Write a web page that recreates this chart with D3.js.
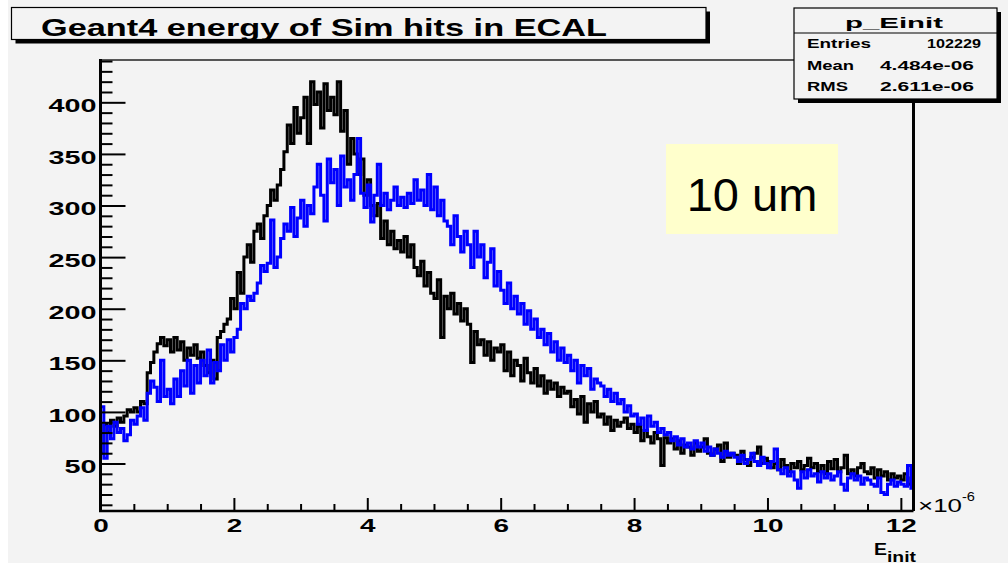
<!DOCTYPE html>
<html>
<head>
<meta charset="utf-8">
<script src="https://cdn.jsdelivr.net/npm/d3@7"></script>
<style>
  body { margin: 0; background: #fff; }
  svg { display: block; }
  text { font-family: "Liberation Sans", Arial, Helvetica, sans-serif; }
</style>
</head>
<body>
<svg id="chart" width="1008" height="565"></svg>
<script>
// histogram bins, width 0.05 (x 1e-6), from 0 to 12.2
const binWidth = 0.05;

const blackCounts = [
  60, 88, 80, 92, 86, 94, 90, 96, 102, 100,
  104, 100, 110, 108, 138, 148, 158, 166, 172, 164,
  170, 158, 172, 160, 168, 150, 162, 155, 165, 152,
  158, 145, 138, 150, 132, 172, 178, 185, 190, 210,
  200, 235, 215, 250, 262, 245, 275, 282, 268, 290,
  300, 315, 305, 320, 335, 352, 378, 360, 395, 370,
  385, 405, 360, 420, 398, 410, 375, 418, 392, 405,
  388, 420, 372, 392, 340, 365, 350, 330, 345, 310,
  325, 300, 290, 302, 268, 285, 262, 275, 258, 266,
  255, 270, 250, 262, 240, 232, 246, 222, 235, 215,
  210, 228, 172, 212, 200, 215, 195, 205, 188, 200,
  185, 148, 178, 165, 170, 155, 168, 150, 162, 158,
  165, 140, 158, 135, 150, 145, 130, 152, 138, 128,
  142, 125, 135, 118, 130, 122, 128, 115, 124, 118,
  120, 105, 112, 98, 115, 90, 108, 100, 110, 95,
  98, 88, 95, 82, 92, 86, 90, 94, 84, 88,
  80, 86, 72, 82, 76, 70, 80, 74, 48, 75,
  70, 74, 64, 72, 60, 68, 66, 58, 70, 62,
  66, 74, 60, 58, 64, 68, 52, 70, 56, 60,
  58, 50, 62, 54, 48, 56, 60, 66, 50, 55,
  52, 46, 50, 44, 54, 48, 42, 50, 46, 52,
  44, 48, 55, 46, 50, 42, 48, 40, 52, 45,
  54, 42, 46, 58, 40, 44, 38, 46, 50, 42,
  40, 46, 36, 44, 38, 42, 34, 40, 36, 38,
  34, 40, 30, 36
];

const blueCounts = [
  105, 55, 86, 74, 90, 80, 84, 72, 78, 92,
  88, 96, 104, 92, 118, 130, 124, 110, 150, 115,
  122, 108, 132, 115, 140, 125, 150, 118, 145, 128,
  150, 135, 160, 128, 148, 140, 165, 150, 170, 158,
  172, 180, 205, 200, 212, 208, 215, 225, 242, 236,
  244, 286, 240, 250, 268, 282, 275, 298, 270, 288,
  305, 280, 300, 292, 318, 340, 310, 285, 345, 322,
  335, 300, 348, 318, 325, 305, 330, 365, 312, 298,
  320, 284, 310, 340, 300, 312, 296, 305, 318, 300,
  308, 298, 312, 302, 325, 305, 315, 300, 330, 296,
  318, 290, 305, 285, 280, 262, 290, 270, 255, 275,
  262, 240, 275, 250, 262, 230, 245, 258, 222, 236,
  218, 205, 225, 200, 212, 195, 205, 185, 198, 180,
  190, 172, 180, 165, 176, 158, 168, 150, 162, 148,
  155, 140, 150, 128, 145, 135, 142, 122, 132, 128,
  125, 115, 122, 110, 118, 108, 112, 100, 106, 96,
  98, 88, 94, 82, 96, 86, 90, 80, 84, 78,
  80, 72, 76, 68, 74, 66, 70, 64, 72, 66,
  70, 62, 66, 58, 64, 60, 56, 62, 58, 60,
  56, 52, 58, 50, 54, 60, 52, 48, 56, 50,
  46, 52, 64, 44, 40, 46, 38, 42, 34, 26,
  42, 36, 44, 38, 40, 32, 42, 36, 40, 34,
  38, 42, 30, 24, 36, 40, 34, 38, 30, 36,
  34, 30, 28, 36, 22, 20, 30, 34, 28, 32,
  30, 28, 48, 26
];

const xTicks = [0, 2, 4, 6, 8, 10, 12];
const xMinor = [0.5, 1, 1.5, 2.5, 3, 3.5, 4.5, 5, 5.5, 6.5, 7, 7.5, 8.5, 9, 9.5, 10.5, 11, 11.5];
const yTicks = [50, 100, 150, 200, 250, 300, 350, 400];
const yMinor = d3.range(10, 441, 10).filter(v => v % 50 !== 0);

const titleText = "Geant4 energy of Sim hits in ECAL";
const statsTitle = "p_Einit";
const statsNames = ["Entries", "Mean", "RMS"];
const statsValues = ["102229", "4.484e-06", "2.611e-06"];
const noteText = "10 um";

const svg = d3.select("#chart");
const bg = "#f3f3f3";

const frame = { left: 100.5, right: 913.5, top: 60, bottom: 511 };

svg.append("rect")
    .attr("x", 8).attr("y", 0)
    .attr("width", 1000).attr("height", 563)
    .attr("fill", bg);

const x = d3.scaleLinear().domain([0, 12.2]).range([frame.left, 914.2]);
const y = d3.scaleLinear().domain([4, 441]).range([frame.bottom, frame.top]);

// clip for the histograms
svg.append("clipPath").attr("id", "plotclip")
    .append("rect")
    .attr("x", frame.left).attr("y", frame.top)
    .attr("width", frame.right - frame.left).attr("height", frame.bottom - frame.top);

function histPoints(counts) {
    const pts = counts.map((c, i) => [i * binWidth, c]);
    pts.push([counts.length * binWidth, counts[counts.length - 1]]);
    return pts;
}

const line = d3.line()
    .x(d => x(d[0]))
    .y(d => y(d[1]))
    .curve(d3.curveStepAfter);

const plot = svg.append("g").attr("clip-path", "url(#plotclip)");

plot.append("path")
    .datum(histPoints(blackCounts))
    .attr("d", line)
    .attr("fill", "none")
    .attr("stroke", "#000")
    .attr("stroke-width", 3);

plot.append("path")
    .datum(histPoints(blueCounts))
    .attr("d", line)
    .attr("fill", "none")
    .attr("stroke", "#0000ff")
    .attr("stroke-width", 3);

// frame top and right
svg.append("line")
    .attr("x1", frame.left).attr("x2", frame.right)
    .attr("y1", frame.top).attr("y2", frame.top)
    .attr("stroke", "#222").attr("stroke-width", 1.5);
svg.append("line")
    .attr("x1", frame.right).attr("x2", frame.right)
    .attr("y1", frame.top).attr("y2", frame.bottom)
    .attr("stroke", "#000").attr("stroke-width", 3);

// y axis
const yAxis = svg.append("g")
    .attr("transform", `translate(${frame.left},0)`)
    .call(d3.axisLeft(y).tickValues(yTicks).tickSize(-25).tickPadding(4).tickFormat(d3.format("d")));
svg.append("g")
    .attr("transform", `translate(${frame.left},0)`)
    .call(d3.axisLeft(y).tickValues(yMinor).tickSize(-12).tickFormat(""))
    .call(g => g.select(".domain").remove())
    .selectAll("line").attr("stroke-width", 2);
yAxis.select(".domain").remove();
yAxis.selectAll("line").attr("stroke-width", 2);
yAxis.selectAll("text")
    .attr("font-size", 18)
    .attr("font-weight", "bold")
    .attr("fill", "#000")
    .attr("x", -4 / 1.6)
    .attr("dy", "0.52em")
    .attr("transform", "scale(1.6,1)");

// x axis
const xAxis = svg.append("g")
    .attr("transform", `translate(0,${frame.bottom})`)
    .call(d3.axisBottom(x).tickValues(xTicks).tickSize(-13).tickPadding(8).tickFormat(d3.format("d")));
svg.append("g")
    .attr("transform", `translate(0,${frame.bottom})`)
    .call(d3.axisBottom(x).tickValues(xMinor).tickSize(-7).tickFormat(""))
    .call(g => g.select(".domain").remove())
    .selectAll("line").attr("stroke-width", 2);
xAxis.select(".domain").remove();
xAxis.selectAll("line").attr("stroke-width", 2);
xAxis.selectAll("text")
    .attr("font-size", 18)
    .attr("font-weight", "bold")
    .attr("fill", "#000")
    .attr("transform", "scale(1.55,1)")
    .attr("x", function (d) { return 0; });
// keep x labels centered after the scale: move the tick group origin instead
xAxis.selectAll(".tick text").attr("transform", null).each(function () {
    d3.select(this).attr("transform", "scale(1.55,1)");
});

// axis lines
svg.append("line")
    .attr("x1", frame.left).attr("x2", frame.left)
    .attr("y1", frame.top - 1).attr("y2", frame.bottom + 1)
    .attr("stroke", "#000").attr("stroke-width", 3);
svg.append("line")
    .attr("x1", frame.left - 1.5).attr("x2", frame.right)
    .attr("y1", frame.bottom).attr("y2", frame.bottom)
    .attr("stroke", "#000").attr("stroke-width", 2.5);

// x10^-6 and axis title
svg.append("text")
    .attr("x", 918).attr("y", 511.7)
    .attr("font-size", 18.6)
    .attr("textLength", 44).attr("lengthAdjust", "spacingAndGlyphs")
    .text("\u00d710");
svg.append("text")
    .attr("x", 962).attr("y", 500.6)
    .attr("font-size", 12)
    .attr("textLength", 13).attr("lengthAdjust", "spacingAndGlyphs")
    .text("-6");
svg.append("text")
    .attr("x", 874).attr("y", 555)
    .attr("font-size", 17).attr("font-weight", "bold")
    .attr("textLength", 13).attr("lengthAdjust", "spacingAndGlyphs")
    .text("E");
svg.append("text")
    .attr("x", 887).attr("y", 561.5)
    .attr("font-size", 14).attr("font-weight", "bold")
    .attr("textLength", 29).attr("lengthAdjust", "spacingAndGlyphs")
    .text("init");

// title box
function shadowBox(x0, y0, w, h, off) {
    svg.append("rect")
        .attr("x", x0 + off).attr("y", y0 + off)
        .attr("width", w).attr("height", h)
        .attr("fill", "#000");
    svg.append("rect")
        .attr("x", x0).attr("y", y0)
        .attr("width", w).attr("height", h)
        .attr("fill", bg)
        .attr("stroke", "#000").attr("stroke-width", 1.2);
}

shadowBox(11.5, 7.5, 694.5, 32, 4);
svg.append("text")
    .attr("x", 41).attr("y", 36)
    .attr("font-size", 24.5).attr("font-weight", "bold")
    .attr("textLength", 566).attr("lengthAdjust", "spacingAndGlyphs")
    .text(titleText);

// stats box
shadowBox(794, 8, 203, 91, 4);
svg.append("line")
    .attr("x1", 794).attr("x2", 997)
    .attr("y1", 33).attr("y2", 33)
    .attr("stroke", "#000").attr("stroke-width", 1.2);
svg.append("text")
    .attr("x", 845).attr("y", 28.3)
    .attr("font-size", 15.3).attr("font-weight", "bold")
    .attr("textLength", 98).attr("lengthAdjust", "spacingAndGlyphs")
    .text(statsTitle);

const rowY = [48.3, 70, 90.7];
const nameLen = [64, 47, 41];
const valX = [927, 880, 880];
const valLen = [54, 94, 94];
statsNames.forEach((n, i) => {
    svg.append("text")
        .attr("x", 807).attr("y", rowY[i])
        .attr("font-size", 12.5).attr("font-weight", "bold")
        .attr("textLength", nameLen[i]).attr("lengthAdjust", "spacingAndGlyphs")
        .text(n);
    svg.append("text")
        .attr("x", valX[i]).attr("y", rowY[i])
        .attr("font-size", 12.5).attr("font-weight", "bold")
        .attr("textLength", valLen[i]).attr("lengthAdjust", "spacingAndGlyphs")
        .text(statsValues[i]);
});

// "10 um" note
svg.append("rect")
    .attr("x", 666).attr("y", 144)
    .attr("width", 172).attr("height", 90)
    .attr("fill", "#ffffcc");
svg.append("text")
    .attr("x", 752).attr("y", 211)
    .attr("text-anchor", "middle")
    .attr("font-size", 47)
    .attr("fill", "#000")
    .text(noteText);
</script>
</body>
</html>
